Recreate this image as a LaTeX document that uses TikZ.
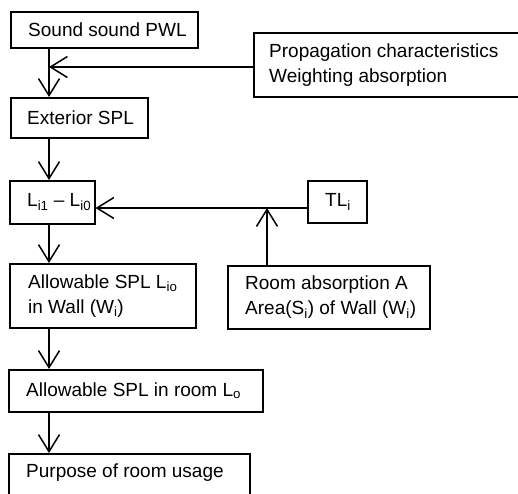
\documentclass[tikz,border=0pt]{standalone}
\usepackage{fontspec}
\setmainfont{Liberation Sans}
\usetikzlibrary{arrows.meta,calc}
\begin{document}
\begin{tikzpicture}[x=1pt,y=-1pt,
  rect/.style={draw, line width=1.5pt, anchor=north west, inner sep=0pt},
  txt/.style={anchor=west, align=left, inner sep=0pt, font=\fontsize{19}{25}\selectfont},
  conn/.style={line width=1.5pt, -{Straight Barb[length=17pt,width=21pt,line width=1.5pt]}},
  plain/.style={line width=1.5pt}
]
\useasboundingbox (0,0) rectangle (518,493);
\clip (0,0) rectangle (518,493);
% boxes
\node[rect, minimum width=187pt, minimum height=36pt] (s) at (10,11) {};
\node[txt] (st) at ($(s.west)+(18,0)$) {Sound sound PWL};
\node[rect, minimum width=300pt, minimum height=64pt] (p) at (253,32) {};
\node[txt] (pt) at ($(p.west)+(16,0)$) {Propagation characteristics\\Weighting absorption};
\node[rect, minimum width=137pt, minimum height=40pt] (e) at (10,97) {};
\node[txt] (et) at ($(e.west)+(17,0)$) {Exterior SPL};
\node[rect, minimum width=85pt, minimum height=43pt] (l) at (9,180) {};
\node[txt] (lt) at ($(l.west)+(18,0)$) {L\textsubscript{i1} -- L\textsubscript{i0}};
\node[rect, minimum width=59pt, minimum height=42pt] (tl) at (307,180) {};
\node[txt] (tlt) at ($(tl.west)+(18,0)$) {TL\textsubscript{i}};
\node[rect, minimum width=186pt, minimum height=64pt] (a) at (9,263) {};
\node[txt] (at) at ($(a.west)+(19,0)$) {Allowable SPL L\textsubscript{io}\\in Wall (W\textsubscript{i})};
\node[rect, minimum width=202pt, minimum height=63pt] (r) at (227,265) {};
\node[txt] (rt) at ($(r.west)+(18,0)$) {Room absorption A\\Area(S\textsubscript{i}) of Wall (W\textsubscript{i})};
\node[rect, minimum width=254pt, minimum height=42pt] (ar) at (8,369) {};
\node[txt] (art) at ($(ar.west)+(18,0)$) {Allowable SPL in room L\textsubscript{o}};
\node[rect, minimum width=241pt, minimum height=48pt] (pu) at (8,453) {};
\node[txt] (put) at ($(pu.north west)+(18,20)$) {Purpose of room usage};
% connectors
\coordinate (col) at (49,0);
\coordinate (pj) at (49,67);
\coordinate (j) at (267,208);
\draw[conn] (s.south -| col) -- (e.north -| col);
\draw[conn] (p.west |- pj) -- (pj);
\draw[conn] (e.south -| col) -- (l.north -| col);
\draw[plain] (tl.west |- j) -- (j);
\draw[conn] (j) -- (l.east |- j);
\draw[conn] (r.north -| j) -- (j);
\draw[conn] (l.south -| col) -- (a.north -| col);
\draw[conn] (a.south -| col) -- (ar.north -| col);
\draw[conn] (ar.south -| col) -- (pu.north -| col);
\end{tikzpicture}
\end{document}
